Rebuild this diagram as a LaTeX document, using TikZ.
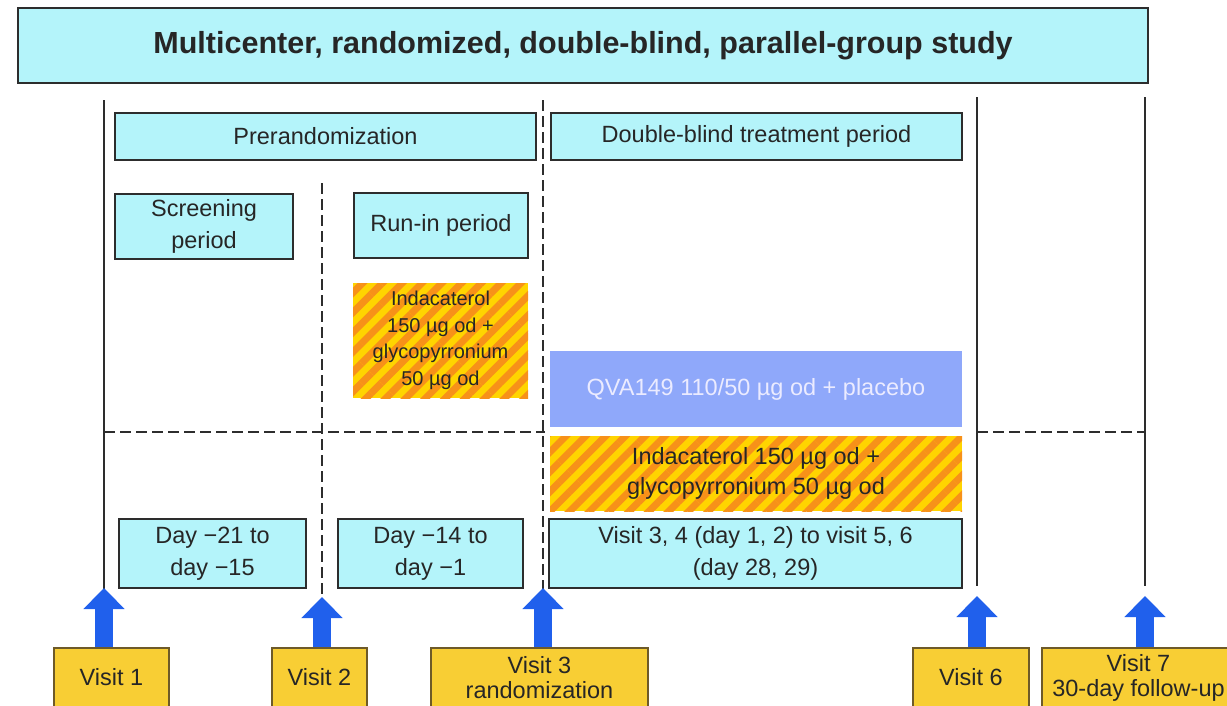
\documentclass[tikz,border=0pt]{standalone}
\usepackage{fontspec}
\setmainfont{Liberation Sans}
\usetikzlibrary{arrows.meta,patterns.meta}
\definecolor{boxcyan}{RGB}{180,244,250}
\definecolor{qvablue}{RGB}{143,168,250}
\definecolor{visityellow}{RGB}{248,206,52}
\definecolor{visitedge}{RGB}{110,90,40}
\definecolor{stripeyellow}{RGB}{255,212,0}
\definecolor{stripeorange}{RGB}{247,145,25}
\definecolor{arrowblue}{RGB}{32,96,236}
\definecolor{linegray}{RGB}{45,45,45}
\tikzset{
  phasebox/.style={draw=linegray, line width=2pt, fill=boxcyan, align=center, inner sep=0pt, text=black!85, font=\fontsize{23.5}{32}\selectfont},
  drugbox/.style={preaction={fill=stripeyellow}, pattern={Lines[angle=45,distance=14pt,line width=7pt]}, pattern color=stripeorange, align=center, inner sep=0pt, text=black!85},
  visitbox/.style={draw=visitedge, line width=1.5pt, fill=visityellow, align=center, inner sep=0pt, text=black!85, font=\fontsize{23.5}{25}\selectfont},
  timeline/.style={linegray, line width=2pt},
  splitline/.style={linegray, line width=2.5pt, dash pattern=on 11pt off 5pt},
  upblock/.style={arrowblue, line width=18pt, -{Triangle[width=40pt,length=21pt]}}
}
\begin{document}
\begin{tikzpicture}[x=1pt,y=-1pt]
\useasboundingbox (0,0) rectangle (1227,705);
\coordinate (m1top) at (104,100);
\coordinate (m1bot) at (104,590);
\coordinate (m2top) at (322,183);
\coordinate (m2bot) at (322,597);
\coordinate (m3top) at (543,100);
\coordinate (m3bot) at (543,590);
\coordinate (m6top) at (977,97);
\coordinate (m6bot) at (977,586);
\coordinate (m7top) at (1145,97);
\coordinate (m7bot) at (1145,586);
\coordinate (h1) at (104,432);
\coordinate (h2) at (545,432);
\coordinate (h3) at (977,432);
\coordinate (h4) at (1145,432);
\draw [timeline] (m1top) -- (m1bot);
\draw [timeline] (m6top) -- (m6bot);
\draw [timeline] (m7top) -- (m7bot);
\draw [splitline] (m2top) -- (m2bot);
\draw [splitline] (m3top) -- (m3bot);
\draw [splitline] (h1) -- (h2);
\draw [splitline] (h3) -- (h4);
\node [phasebox, minimum width=1130, minimum height=75, font=\bfseries\fontsize{30.5}{36}\selectfont] (title) at (583,45.5) {Multicenter, randomized, double-blind, parallel-group study};
\node [phasebox, minimum width=421, minimum height=47] (prerand) at (325.5,136.5) {Prerandomization};
\node [phasebox, minimum width=411, minimum height=47] (dbt) at (756.5,136.5) {Double-blind treatment period};
\node [phasebox, minimum width=178, minimum height=65] (screen) at (204,226.5) {Screening\\period};
\node [phasebox, minimum width=174, minimum height=65] (runin) at (441,225.5) {Run-in period};
\node [drugbox, minimum width=175, minimum height=115, font=\fontsize{20}{26.5}\selectfont] (openlabel) at (440.5,340.5) {Indacaterol\\150 µg od +\\glycopyrronium\\50 µg od};
\node [minimum width=412, minimum height=76, inner sep=0pt, fill=qvablue, text=white!92!blue, font=\fontsize{23.5}{30}\selectfont] (qva) at (756,389) {QVA149 110/50 µg od + placebo};
\node [drugbox, minimum width=412, minimum height=75, font=\fontsize{23.5}{30}\selectfont] (indgly) at (756,473.5) {Indacaterol 150 µg od +\\glycopyrronium 50 µg od};
\node [phasebox, minimum width=187, minimum height=69] (day1) at (212.5,553.5) {Day −21 to\\day −15};
\node [phasebox, minimum width=185, minimum height=69] (day2) at (430.5,553.5) {Day −14 to\\day −1};
\node [phasebox, minimum width=413, minimum height=69] (treat) at (755.5,553.5) {Visit 3, 4 (day 1, 2) to visit 5, 6\\(day 28, 29)};
\node [visitbox, minimum width=115, minimum height=59] (v1) at (111.5,677.5) {Visit 1};
\node [visitbox, minimum width=95, minimum height=59] (v2) at (319.5,677.5) {Visit 2};
\node [visitbox, minimum width=217, minimum height=59] (v3) at (539.5,677.5) {Visit 3\\randomization};
\node [visitbox, minimum width=116, minimum height=59] (v6) at (971,677.5) {Visit 6};
\node [visitbox, minimum width=193, minimum height=59] (v7) at (1138.5,677.5) {Visit 7\\30-day follow-up};
\coordinate (a1) at (104,588);
\coordinate (a2) at (322,597);
\coordinate (a3) at (543,588);
\coordinate (a6) at (977,596);
\coordinate (a7) at (1145,596);
\draw [upblock] (a1 |- v1.north) -- (a1);
\draw [upblock] (a2 |- v2.north) -- (a2);
\draw [upblock] (a3 |- v3.north) -- (a3);
\draw [upblock] (a6 |- v6.north) -- (a6);
\draw [upblock] (a7 |- v7.north) -- (a7);
\end{tikzpicture}
\end{document}
